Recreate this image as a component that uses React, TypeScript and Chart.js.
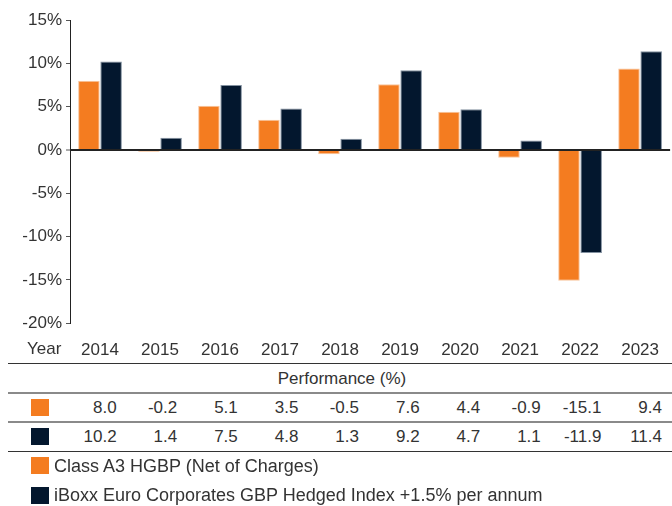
import React, { useEffect, useRef } from "react";
import { Chart, registerables } from "chart.js";

Chart.register(...registerables);

const years = ["2014", "2015", "2016", "2017", "2018", "2019", "2020", "2021", "2022", "2023"];
const fundValues = [8.0, -0.2, 5.1, 3.5, -0.5, 7.6, 4.4, -0.9, -15.1, 9.4];
const indexValues = [10.2, 1.4, 7.5, 4.8, 1.3, 9.2, 4.7, 1.1, -11.9, 11.4];
const fundLabel = "Class A3 HGBP (Net of Charges)";
const indexLabel = "iBoxx Euro Corporates GBP Hedged Index +1.5% per annum";
const yTickMin = -20;
const yTickMax = 15;
const yTickStep = 5;

const ORANGE = "#F47C20";
const NAVY = "#03172E";
const TEXT = "#333333";
const FONT = "'Liberation Sans', Arial, Helvetica, sans-serif";

const PLOT_LEFT = 70;
const CANVAS_W = 676;
const CANVAS_H = 362;
const CAT_W = (CANVAS_W - PLOT_LEFT) / years.length;

export default function App() {
  const canvasRef = useRef<HTMLCanvasElement | null>(null);

  useEffect(() => {
    if (!canvasRef.current) return;
    const chart = new Chart(canvasRef.current, {
      type: "bar",
      data: {
        labels: years,
        datasets: [
          {
            label: fundLabel,
            data: fundValues,
            backgroundColor: ORANGE,
            borderColor: "#F8C49C",
            borderWidth: 1,
            categoryPercentage: 0.74,
            barPercentage: 0.97,
          },
          {
            label: indexLabel,
            data: indexValues,
            backgroundColor: NAVY,
            borderColor: "#8391A0",
            borderWidth: 1,
            categoryPercentage: 0.74,
            barPercentage: 0.97,
          },
        ],
      },
      options: {
        animation: false,
        responsive: false,
        maintainAspectRatio: false,
        layout: { padding: { top: 20, right: 0, bottom: 1, left: 0 } },
        plugins: { legend: { display: false }, tooltip: { enabled: false } },
        scales: {
          x: {
            grid: { display: false, drawTicks: false },
            border: { display: false },
            afterFit: (scale: any) => {
              scale.height = 37.7;
            },
            ticks: {
              padding: 17,
              color: TEXT,
              font: { family: FONT, size: 17 },
              maxRotation: 0,
            },
          },
          y: {
            min: yTickMin,
            max: yTickMax,
            z: 1,
            afterFit: (scale: any) => {
              scale.width = PLOT_LEFT;
            },
            ticks: {
              stepSize: yTickStep,
              padding: 4,
              color: TEXT,
              font: { family: FONT, size: 17 },
              callback: (v: any) => `${v}%`,
            },
            grid: {
              color: (ctx: any) => (ctx.tick && ctx.tick.value === 0 ? "#222222" : "rgba(0,0,0,0)"),
              lineWidth: (ctx: any) => (ctx.tick && ctx.tick.value === 0 ? 2 : 1),
              tickColor: "#555555",
              tickWidth: 1,
              tickLength: 4,
            },
            border: { display: true, color: "#222222", width: 1 },
          },
        },
      },
    });
    return () => chart.destroy();
  }, []);

  const rowCells = (vals: number[]) =>
    vals.map((v, i) => (
      <div
        key={i}
        style={{
          position: "absolute",
          left: PLOT_LEFT + CAT_W * i,
          width: CAT_W - 14,
          top: 0,
          height: "100%",
          textAlign: "right",
          display: "flex",
          alignItems: "center",
          justifyContent: "flex-end",
        }}
      >
        {v.toFixed(1)}
      </div>
    ));

  const line = (top: number, h: number, color: string) => (
    <div style={{ position: "absolute", left: 8, width: 668, top, height: h, background: color }} />
  );

  const square = (top: number, color: string) => (
    <div style={{ position: "absolute", left: 31, top, width: 18, height: 17, background: color }} />
  );

  return (
    <div
      style={{
        position: "absolute",
        left: 0,
        top: 0,
        width: 672,
        height: 506,
        overflow: "hidden",
        background: "#fff",
        fontFamily: FONT,
        fontSize: 17,
        color: TEXT,
      }}
    >
      <canvas
        ref={canvasRef}
        width={CANVAS_W}
        height={CANVAS_H}
        style={{ position: "absolute", left: 0, top: 0, width: CANVAS_W, height: CANVAS_H }}
      />
      <div style={{ position: "absolute", left: 27, top: 339, height: 20, lineHeight: "20px" }}>Year</div>
      {line(362.5, 1.5, "#333")}
      <div
        style={{
          position: "absolute",
          left: 8,
          width: 668,
          top: 364,
          height: 29,
          display: "flex",
          alignItems: "center",
          justifyContent: "center",
        }}
      >
        Performance (%)
      </div>
      {line(392, 2, "#8a8a8a")}
      <div style={{ position: "absolute", left: 0, width: 680, top: 394, height: 28 }}>
        {rowCells(fundValues)}
      </div>
      {square(399, ORANGE)}
      {line(421, 2, "#8a8a8a")}
      <div style={{ position: "absolute", left: 0, width: 680, top: 423, height: 28 }}>
        {rowCells(indexValues)}
      </div>
      {square(428, NAVY)}
      {line(450.5, 1.5, "#333")}
      {square(457, ORANGE)}
      <div style={{ position: "absolute", left: 54, top: 455, height: 22, lineHeight: "22px", fontSize: 18 }}>
        {fundLabel}
      </div>
      {square(487, NAVY)}
      <div style={{ position: "absolute", left: 54, top: 484, height: 22, lineHeight: "22px", fontSize: 18 }}>
        {indexLabel}
      </div>
    </div>
  );
}
